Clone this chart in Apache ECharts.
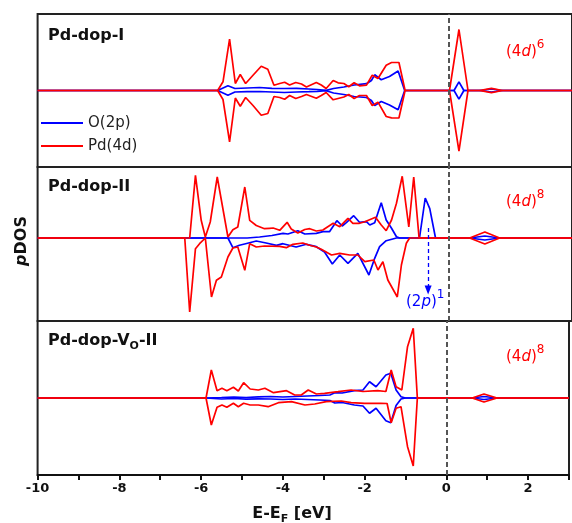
<!DOCTYPE html>
<html><head><meta charset="utf-8">
<script src="https://cdn.jsdelivr.net/npm/echarts@6/dist/echarts.min.js"></script>
<style>html,body{margin:0;padding:0;background:#fff}#c{width:572px;height:523px}</style>
</head><body><div id="c"></div>
<script>
// ---------- data (energy in eV, pDOS in arbitrary units) ----------
const xTickLabels = [-10, -8, -6, -4, -2, 0, 2];
const seriesNames = ['O(2p)', 'Pd(4d)'];
const panelLabels = ['Pd-dop-I', 'Pd-dop-II', 'Pd-dop-VO-II'];
const occupations = ['6', '8', '8'];

// Panel 1 : Pd-dop-I
const p1_O_up = [[-10,0],[-5.62,0],[-5.37,0.47],[-5.2,0.2],[-4.9,0.25],[-4.6,0.3],[-4.3,0.22],[-4.0,0.2],[-3.7,0.22],[-3.4,0.15],[-3.2,0.1],[-2.98,0.02],[-2.8,0.2],[-2.55,0.35],[-2.3,0.55],[-2.0,0.68],[-1.88,1.0],[-1.80,1.57],[-1.64,1.07],[-1.44,1.4],[-1.23,1.95],[-1.07,0],[0.13,0],[0.25,0.87],[0.37,0],[0.75,0],[1.04,0.15],[1.31,0],[3,0]];
const p1_O_dn = [[-10,0],[-5.62,0],[-5.37,-0.47],[-5.2,-0.15],[-4.9,-0.12],[-4.6,-0.1],[-4.3,-0.15],[-4.0,-0.2],[-3.7,-0.15],[-3.4,-0.12],[-3.2,-0.08],[-2.98,-0.02],[-2.8,-0.25],[-2.55,-0.4],[-2.3,-0.6],[-2.0,-0.7],[-1.88,-1.0],[-1.80,-1.5],[-1.64,-1.1],[-1.44,-1.45],[-1.23,-1.93],[-1.07,0],[0.13,0],[0.25,-0.87],[0.37,0],[0.75,0],[1.04,-0.15],[1.31,0],[3,0]];
const p1_Pd_up = [[-10,0],[-5.62,0],[-5.49,0.87],[-5.33,5.13],[-5.19,0.7],[-5.07,1.6],[-4.94,0.7],[-4.76,1.53],[-4.56,2.43],[-4.40,2.13],[-4.25,0.53],[-4.11,0.7],[-3.99,0.83],[-3.87,0.55],[-3.72,0.8],[-3.58,0.65],[-3.46,0.35],[-3.22,0.8],[-3.10,0.55],[-2.98,0.2],[-2.81,1.0],[-2.69,0.77],[-2.55,0.7],[-2.43,0.37],[-2.30,0.77],[-2.17,0.47],[-2.00,0.53],[-1.86,1.53],[-1.72,1.2],[-1.52,2.53],[-1.39,2.8],[-1.21,2.8],[-1.06,0],[0.02,0],[0.25,6.1],[0.47,0],[0.75,0],[1.04,0.22],[1.31,0],[3,0]];
const p1_Pd_dn = [[-10,0],[-5.62,0],[-5.49,-0.9],[-5.33,-5.13],[-5.19,-0.75],[-5.07,-1.57],[-4.94,-0.7],[-4.76,-1.5],[-4.56,-2.47],[-4.40,-2.3],[-4.25,-0.6],[-4.11,-0.7],[-3.99,-0.87],[-3.87,-0.5],[-3.72,-0.8],[-3.58,-0.6],[-3.46,-0.4],[-3.22,-0.77],[-3.10,-0.5],[-2.98,-0.2],[-2.81,-0.93],[-2.69,-0.8],[-2.55,-0.65],[-2.43,-0.4],[-2.30,-0.8],[-2.17,-0.5],[-2.00,-0.5],[-1.86,-1.5],[-1.72,-1.17],[-1.52,-2.6],[-1.39,-2.73],[-1.21,-2.75],[-1.06,0],[0.02,0],[0.25,-6.07],[0.47,0],[0.75,0],[1.04,-0.22],[1.31,0],[3,0]];

// Panel 2 : Pd-dop-II
const p2_O_up = [[-10,0],[-4.9,0],[-4.6,0.1],[-4.3,0.25],[-4.03,0.47],[-3.91,0.4],[-3.67,0.73],[-3.5,0.4],[-3.22,0.47],[-3.06,0.63],[-2.9,0.63],[-2.72,1.73],[-2.59,1.2],[-2.49,1.53],[-2.31,2.23],[-2.17,1.57],[-2.0,1.63],[-1.92,1.3],[-1.80,1.53],[-1.64,3.53],[-1.52,1.8],[-1.39,0.97],[-1.27,0.13],[-1.19,0],[-0.71,0],[-0.57,4.0],[-0.46,2.93],[-0.32,0],[0.51,0],[0.88,0.2],[1.24,0],[3,0]];
const p2_O_dn = [[-10,0],[-5.37,0],[-5.25,-0.97],[-5.09,-0.73],[-4.94,-0.57],[-4.68,-0.3],[-4.44,-0.5],[-4.19,-0.73],[-4.03,-0.57],[-3.71,-0.9],[-3.46,-0.63],[-3.22,-0.87],[-3.02,-1.4],[-2.83,-2.6],[-2.65,-1.7],[-2.45,-2.53],[-2.21,-1.53],[-1.94,-3.7],[-1.80,-2.03],[-1.68,-0.87],[-1.52,-0.27],[-1.27,0],[0.51,0],[0.88,-0.2],[1.24,0],[3,0]];
const p2_Pd_up = [[-10,0],[-6.30,0],[-6.16,6.27],[-6.02,1.77],[-5.92,0.1],[-5.80,1.6],[-5.63,6.1],[-5.37,0.1],[-5.25,0.83],[-5.13,1.1],[-4.96,5.1],[-4.84,1.77],[-4.68,1.25],[-4.48,0.93],[-4.36,0.97],[-4.27,1.0],[-4.11,0.77],[-3.93,1.57],[-3.83,0.9],[-3.67,0.5],[-3.50,0.85],[-3.38,0.93],[-3.22,0.7],[-3.06,0.8],[-2.94,1.13],[-2.81,1.47],[-2.65,1.13],[-2.45,1.97],[-2.33,1.47],[-2.17,1.47],[-2.04,1.63],[-1.78,2.07],[-1.64,1.3],[-1.52,0.73],[-1.39,1.8],[-1.27,3.47],[-1.13,6.17],[-0.97,1.1],[-0.85,6.1],[-0.72,0],[0.51,0],[0.88,0.6],[1.24,0],[3,0]];
const p2_Pd_dn = [[-10,0],[-6.42,0],[-6.30,-7.4],[-6.16,-1.07],[-6.06,-0.57],[-5.92,0],[-5.77,-5.9],[-5.65,-4.23],[-5.53,-3.9],[-5.37,-1.9],[-5.25,-1.0],[-5.13,-0.9],[-4.96,-3.23],[-4.84,-0.57],[-4.68,-0.9],[-4.48,-0.8],[-4.11,-0.83],[-3.95,-0.97],[-3.79,-0.63],[-3.55,-0.5],[-3.38,-0.73],[-3.22,-0.9],[-3.10,-1.13],[-2.85,-1.7],[-2.65,-1.53],[-2.41,-1.7],[-2.21,-1.7],[-2.04,-2.37],[-1.82,-2.2],[-1.72,-3.2],[-1.60,-2.37],[-1.48,-4.2],[-1.25,-5.9],[-1.15,-2.7],[-1.03,-0.53],[-0.95,0],[0.51,0],[0.88,-0.6],[1.24,0],[3,0]];

// Panel 3 : Pd-dop-VO-II
const p3_O_up = [[-10,0],[-5.88,0],[-5.5,0.05],[-5.2,0.1],[-4.9,0.05],[-4.6,0.12],[-4.3,0.15],[-4.0,0.1],[-3.7,0.15],[-3.4,0.2],[-3.1,0.25],[-2.85,0.3],[-2.73,0.53],[-2.55,0.5],[-2.25,0.73],[-2.04,0.8],[-1.88,1.63],[-1.72,1.13],[-1.48,2.3],[-1.36,2.47],[-1.23,0.8],[-1.11,0.13],[-1.0,0],[0.63,0],[0.92,0.15],[1.24,0],[3,0]];
const p3_O_dn = [[-10,0],[-5.88,0],[-5.5,-0.1],[-5.2,-0.05],[-4.9,-0.12],[-4.6,-0.08],[-4.3,-0.1],[-4.0,-0.15],[-3.7,-0.1],[-3.4,-0.15],[-3.1,-0.2],[-2.85,-0.25],[-2.73,-0.5],[-2.55,-0.45],[-2.25,-0.7],[-2.04,-0.8],[-1.88,-1.53],[-1.72,-1.03],[-1.48,-2.27],[-1.36,-2.47],[-1.23,-0.75],[-1.11,-0.1],[-1.0,0],[0.63,0],[0.92,-0.15],[1.24,0],[3,0]];
const p3_Pd_up = [[-10,0],[-5.88,0],[-5.75,2.8],[-5.61,0.73],[-5.49,0.97],[-5.37,0.73],[-5.21,1.07],[-5.09,0.7],[-4.96,1.53],[-4.80,0.9],[-4.60,0.8],[-4.44,0.97],[-4.23,0.53],[-3.91,0.73],[-3.71,0.3],[-3.55,0.3],[-3.38,0.8],[-3.18,0.4],[-2.98,0.47],[-2.65,0.63],[-2.33,0.8],[-2.04,0.65],[-1.68,0.73],[-1.48,0.65],[-1.35,2.8],[-1.23,1.13],[-1.09,0.8],[-0.95,5.13],[-0.81,6.97],[-0.71,0],[0.63,0],[0.92,0.4],[1.24,0],[3,0]];
const p3_Pd_dn = [[-10,0],[-5.88,0],[-5.75,-2.7],[-5.61,-0.93],[-5.49,-0.7],[-5.37,-0.93],[-5.21,-0.53],[-5.09,-0.87],[-4.96,-0.53],[-4.80,-0.7],[-4.60,-0.7],[-4.36,-0.87],[-4.11,-0.47],[-3.79,-0.37],[-3.46,-0.7],[-3.22,-0.6],[-2.94,-0.37],[-2.57,-0.3],[-2.33,-0.47],[-2.0,-0.53],[-1.60,-0.53],[-1.45,-0.55],[-1.35,-2.47],[-1.23,-1.03],[-1.11,-0.87],[-0.95,-4.87],[-0.81,-6.8],[-0.71,0],[0.63,0],[0.92,-0.4],[1.24,0],[3,0]];

// y ranges of the three panels
const yRanges = [[-7.65, 7.65], [-8.3, 7.1], [-7.7, 7.7]];
// annotation arrow for the (2p)^1 hole state in panel 2: [E, from, to]
const holeArrow = [-0.5, 1.0, -5.2];

// ---------- chart ----------
const BLUE = '#0000ff', RED = '#ff0000', INK = '#111';
const FONT = '"DejaVu Sans", "Liberation Sans", Arial, sans-serif';
const chart = echarts.init(document.getElementById('c'), null, {renderer: 'canvas'});

const panels = [
  {O: [p1_O_up, p1_O_dn], Pd: [p1_Pd_up, p1_Pd_dn]},
  {O: [p2_O_up, p2_O_dn], Pd: [p2_Pd_up, p2_Pd_dn]},
  {O: [p3_O_up, p3_O_dn], Pd: [p3_Pd_up, p3_Pd_dn]}
];
const gridTops = [14, 167, 321];
const gridHeights = [153, 154, 154];

const grids = [], xAxes = [], yAxes = [], series = [];
panels.forEach((p, i) => {
  const last = i === panels.length - 1;
  grids.push({left: 37.6, width: 535, top: gridTops[i], height: gridHeights[i], show: true,
    borderColor: '#222', borderWidth: 2, backgroundColor: 'transparent', containLabel: false});
  xAxes.push({type: 'value', gridIndex: i, min: -10, max: 3, interval: 1,
    axisLine: {show: last, onZero: false, lineStyle: {color: INK, width: 2}},
    axisTick: {show: last, length: 5, lineStyle: {color: INK, width: 2}},
    axisLabel: {show: last, margin: 7, color: INK, fontFamily: FONT, fontWeight: 'bold', fontSize: 13,
      formatter: v => xTickLabels.indexOf(v) >= 0 ? String(v) : ''},
    splitLine: {show: false}});
  yAxes.push({type: 'value', gridIndex: i, min: yRanges[i][0], max: yRanges[i][1], show: false, splitLine: {show: false}});
  const mk = (name, data, color, extra) => Object.assign({
    type: 'line', name, data, xAxisIndex: i, yAxisIndex: i, symbol: 'none', showSymbol: false,
    lineStyle: {color, width: 1.7}, itemStyle: {color}, animation: false, silent: true, clip: true
  }, extra || {});
  series.push(mk(seriesNames[0], p.O[0], BLUE, {
    markLine: {silent: true, symbol: 'none', label: {show: false}, animation: false,
      lineStyle: {type: [5, 3], color: '#555', width: 2}, data: [{xAxis: 0}]}
  }));
  const extraDn = (i === 1) ? {
    markLine: {silent: true, symbol: ['none', 'triangle'], symbolSize: [7, 9], label: {show: false}, animation: false,
      lineStyle: {type: [4, 3], color: BLUE, width: 1.3},
      data: [[{coord: [holeArrow[0], holeArrow[1]]}, {coord: [holeArrow[0], holeArrow[2]]}]]}
  } : null;
  series.push(mk(seriesNames[0], p.O[1], BLUE, extraDn));
  series.push(mk(seriesNames[1], p.Pd[0], RED));
  series.push(mk(seriesNames[1], p.Pd[1], RED));
});

function txt(x, y, text, rich, align, rotation) {
  return {type: 'text', x, y, rotation: rotation || 0, silent: true, z: 100,
    style: {text, rich, align: align || 'left', verticalAlign: 'middle'}};
}
const bold16 = {fontSize: 16, fontWeight: 'bold', fontFamily: FONT, fill: INK, lineHeight: 22};
const subB = {fontSize: 11, fontWeight: 'bold', fontFamily: FONT, fill: INK, lineHeight: 12, verticalAlign: 'bottom'};
function occ(color) {
  return {
    m: {fontSize: 15, fontFamily: FONT, fill: color, lineHeight: 26},
    i: {fontSize: 15, fontFamily: FONT, fontStyle: 'italic', fill: color, lineHeight: 26},
    u: {fontSize: 12, fontFamily: FONT, fill: color, lineHeight: 12, verticalAlign: 'top'}
  };
}
const graphic = [
  txt(48, 36, '{b|' + panelLabels[0] + '}', {b: bold16}),
  txt(48, 187, '{b|' + panelLabels[1] + '}', {b: bold16}),
  txt(48, 341, '{b|Pd-dop-V}{s|O}{b|-II}', {b: bold16, s: subB}),
  txt(506, 52, '{m|(4}{i|d}{m|)}{u|' + occupations[0] + '}', occ(RED)),
  txt(506, 202, '{m|(4}{i|d}{m|)}{u|' + occupations[1] + '}', occ(RED)),
  txt(506, 357, '{m|(4}{i|d}{m|)}{u|' + occupations[2] + '}', occ(RED)),
  txt(406, 302, '{m|(2}{i|p}{m|)}{u|1}', occ(BLUE)),
  txt(22, 241, '{i|p}{b|DOS}', {
    b: {fontSize: 16, fontWeight: 'bold', fontFamily: FONT, fill: INK},
    i: {fontSize: 16, fontWeight: 'bold', fontStyle: 'italic', fontFamily: FONT, fill: INK}}, 'center', Math.PI / 2),
  txt(292, 514, '{b|E-E}{s|F}{b| [eV]}', {b: bold16, s: subB}, 'center')
];

chart.setOption({
  animation: false,
  backgroundColor: '#fff',
  grid: grids, xAxis: xAxes, yAxis: yAxes, series,
  legend: {data: seriesNames, orient: 'vertical', left: 41, top: 115.5, padding: 0, icon: 'rect',
    itemWidth: 42, itemHeight: 2, itemGap: 8, selectedMode: false,
    textStyle: {fontFamily: FONT, fontSize: 15, lineHeight: 15, color: '#222', padding: [0, 0, 0, 0]}},
  graphic
});
</script></body></html>
